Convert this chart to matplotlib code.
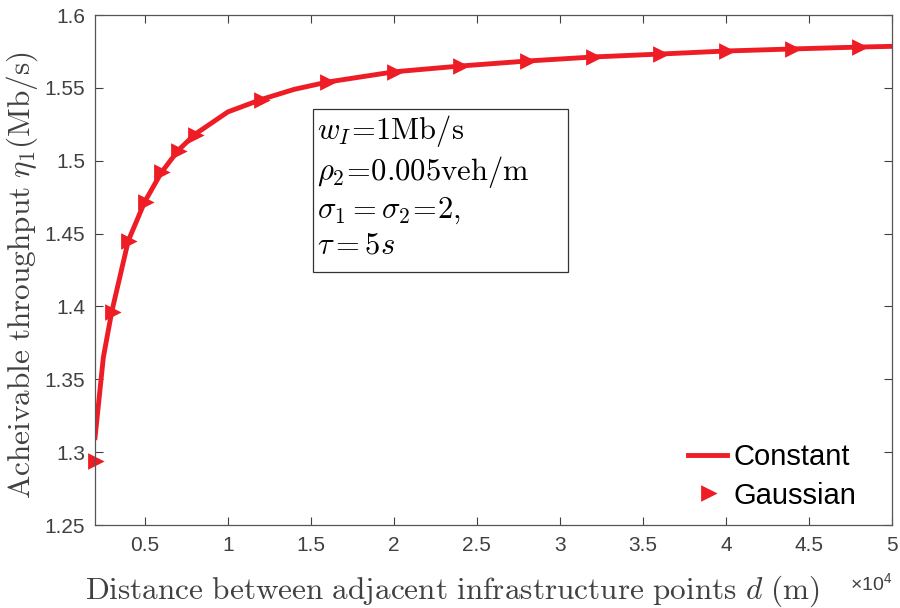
import matplotlib
matplotlib.use("Agg")
import matplotlib.pyplot as plt
from matplotlib.patches import Rectangle
from matplotlib.ticker import FormatStrFormatter, FuncFormatter

plt.rcParams['mathtext.fontset'] = 'cm'
plt.rcParams['font.family'] = ['Liberation Sans', 'DejaVu Sans']

# throughput vs. infrastructure spacing
d_const = [2000, 2500, 3000, 4000, 5000, 6000, 7000, 8000, 10000, 12000, 14000,
           16000, 20000, 24000, 28000, 32000, 36000, 40000, 44000, 48000, 50000]
eta_const = [1.310, 1.365, 1.396, 1.445, 1.472, 1.492, 1.507, 1.518, 1.5335, 1.542, 1.549,
             1.554, 1.561, 1.565, 1.5684, 1.5712, 1.5732, 1.5753, 1.5767, 1.578, 1.5785]

d_gauss = [2000, 3000, 4000, 5000, 6000, 7000, 8000, 12000, 16000, 20000,
           24000, 28000, 32000, 36000, 40000, 44000, 48000]
eta_gauss = [1.294, 1.396, 1.445, 1.472, 1.492, 1.507, 1.518, 1.542, 1.554, 1.561,
             1.565, 1.5684, 1.5712, 1.5732, 1.5753, 1.5767, 1.578]

xticks = [5000, 10000, 15000, 20000, 25000, 30000, 35000, 40000, 45000, 50000]
yticks = [1.25, 1.3, 1.35, 1.4, 1.45, 1.5, 1.55, 1.6]

red = '#ee1c25'
grey = '#404040'

fig = plt.figure(figsize=(9, 6.08), dpi=100)
ax = fig.add_axes([0.1056, 0.1365, 0.8855, 0.8388])

ax.plot(d_const, eta_const, color=red, lw=3.5, label='Constant')
ax.plot(d_gauss, eta_gauss, ls='none', marker='>', ms=9, mfc=red, mec=red,
        mew=2, clip_on=False, label='Gaussian')

ax.set_xlim(2000, 50000)
ax.set_ylim(1.25, 1.6)
ax.set_xticks(xticks)
ax.set_yticks(yticks)
ax.xaxis.set_major_formatter(FuncFormatter(lambda v, p: '%g' % (v / 1e4)))
ax.yaxis.set_major_formatter(FormatStrFormatter('%g'))
ax.tick_params(direction='in', top=True, right=True, length=6, width=0.8,
               colors=grey, labelsize=15)
ax.tick_params(axis='x', pad=8)
ax.tick_params(axis='y', pad=7)
for s in ax.spines.values():
    s.set_color('#555555')
    s.set_linewidth(0.9)

ax.text(1.0, -0.127, r'$\mathregular{\times10^4}$', transform=ax.transAxes,
        fontsize=14, color=grey, ha='right', va='baseline')

ax.set_xlabel(r'$\mathrm{Distance\ between\ adjacent\ infrastructure\ points\ }d\mathrm{\ (m)}$',
              fontsize=22.5, color=grey)
ax.xaxis.set_label_coords(0.448, -0.095)
ax.set_ylabel(r'$\mathrm{Acheivable\ throughput\ }\eta_1\mathrm{(Mb/s)}$',
              fontsize=22.5, color=grey)
ax.yaxis.set_label_coords(-0.069, 0.49)

# parameter box
ax.add_patch(Rectangle((0.2735, 0.496), 0.32, 0.3196, transform=ax.transAxes,
                       fc='white', ec='#333333', lw=0.9, zorder=3))
ax.text(0.278, 0.808,
        '$w_I\\!=\\!1\\mathrm{Mb/s}$\n$\\rho_2\\!=\\!0.005\\mathrm{veh/m}$\n'
        '$\\sigma_1=\\sigma_2\\!=\\!2,$\n$\\tau=5s$',
        transform=ax.transAxes, fontsize=22, va='top', ha='left',
        linespacing=1.2, zorder=4)

ax.legend(loc='lower right', bbox_to_anchor=(0.955, 0.03), frameon=False,
          fontsize=21, handlelength=1.35, handletextpad=0.2, borderaxespad=0,
          borderpad=0, labelspacing=0.35)

fig.savefig('out.png', dpi=100)
